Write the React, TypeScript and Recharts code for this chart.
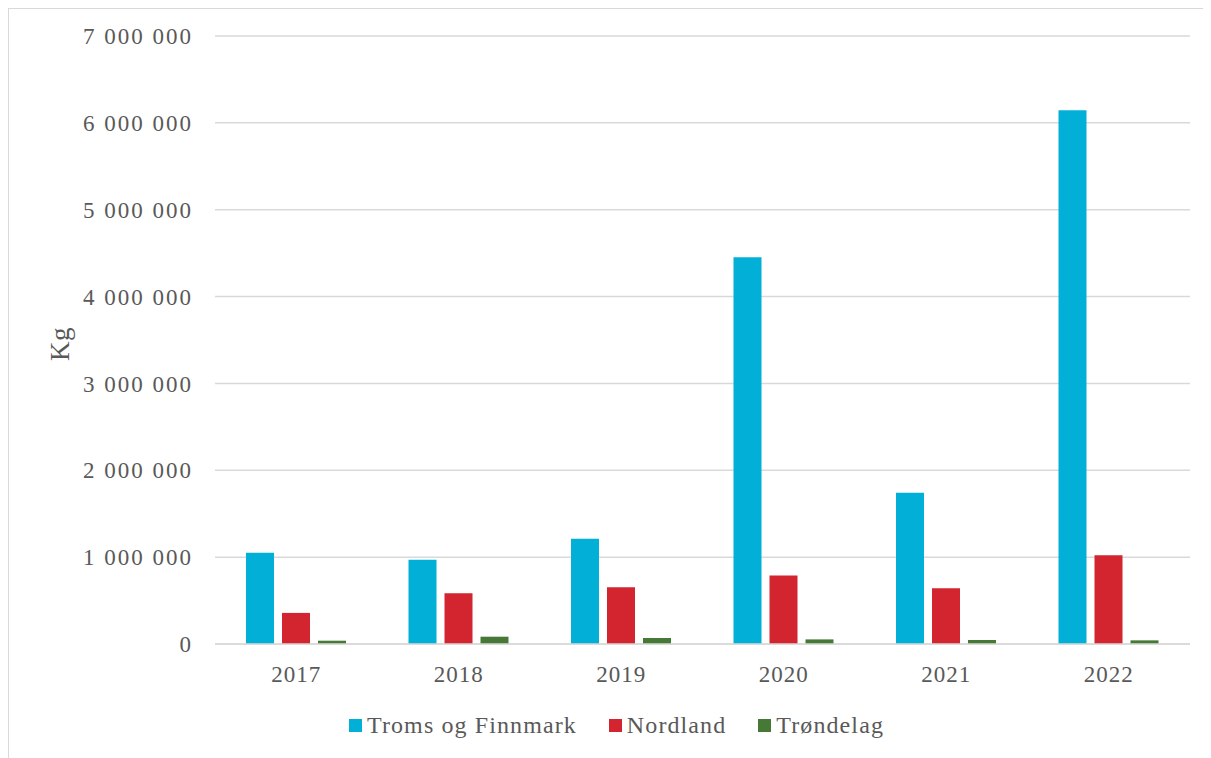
import { BarChart, Bar, XAxis, YAxis, CartesianGrid } from 'recharts'

const years = ['2017', '2018', '2019', '2020', '2021', '2022']
const tromsOgFinnmark = [1050000, 969000, 1211000, 4452000, 1742000, 6145000]
const nordland = [358000, 584000, 653000, 788000, 641000, 1022000]
const trondelag = [38000, 84000, 69000, 53000, 46000, 42000]
const yTicks = [0, 1000000, 2000000, 3000000, 4000000, 5000000, 6000000, 7000000]

const seriesList = [
  { key: 'troms', name: 'Troms og Finnmark', color: '#02AFD7' },
  { key: 'nordland', name: 'Nordland', color: '#D3252F' },
  { key: 'trondelag', name: 'Trøndelag', color: '#467935' },
]

const textColor = '#595959'
const fontFamily = '"Liberation Serif", Georgia, serif'

const chartData = years.map((year, i) => ({
  year,
  troms: tromsOgFinnmark[i],
  nordland: nordland[i],
  trondelag: trondelag[i],
}))

// thousands with a space, like "1 000 000"
const formatKg = (value: number) =>
  String(value).replace(/\B(?=(\d{3})+(?!\d))/g, ' ')

function KgLabel() {
  return (
    <text
      x={51}
      y={335}
      transform="rotate(-90, 51, 335)"
      textAnchor="middle"
      dominantBaseline="central"
      fill={textColor}
      fontSize={27}
      letterSpacing={0.5}
      fontFamily={fontFamily}
    >
      Kg
    </text>
  )
}

export default function App() {
  return (
    <div
      style={{
        position: 'relative',
        width: 1202,
        height: 749,
        borderLeft: '1px solid #d9d9d9',
        borderTop: '1px solid #d9d9d9',
        fontFamily,
      }}
    >
      <BarChart
        width={1202}
        height={749}
        data={chartData}
        margin={{ top: 27, right: 21, left: 0, bottom: 74 }}
        barSize={28}
        barGap={8}
      >
        <CartesianGrid vertical={false} stroke="#d9d9d9" strokeWidth={1.5} />
        <XAxis
          dataKey="year"
          height={40}
          axisLine={{ stroke: '#d9d9d9', strokeWidth: 1.5 }}
          tickLine={false}
          tickSize={0}
          tickMargin={22}
          tick={{ fill: textColor, fontSize: 23, letterSpacing: 1, fontFamily }}
        />
        <YAxis
          width={206}
          domain={[0, 7000000]}
          ticks={yTicks}
          interval={0}
          axisLine={false}
          tickLine={false}
          tickSize={0}
          tickMargin={22}
          tickFormatter={formatKg}
          tick={{ fill: textColor, fontSize: 23, letterSpacing: 2, fontFamily }}
          label={<KgLabel />}
        />
        {seriesList.map((s) => (
          <Bar
            key={s.key}
            dataKey={s.key}
            name={s.name}
            fill={s.color}
            isAnimationActive={false}
          />
        ))}
      </BarChart>
      <div
        style={{
          position: 'absolute',
          left: 340,
          top: 701,
          display: 'flex',
          alignItems: 'center',
          height: 30,
          color: textColor,
          fontSize: 24,
          letterSpacing: 1.1,
          whiteSpace: 'nowrap',
        }}
      >
        {seriesList.map((s) => (
          <div key={s.key} style={{ display: 'flex', alignItems: 'center', marginRight: 32 }}>
            <span
              style={{
                display: 'inline-block',
                width: 13,
                height: 13,
                background: s.color,
                marginRight: 5,
              }}
            />
            <span>{s.name}</span>
          </div>
        ))}
      </div>
    </div>
  )
}
